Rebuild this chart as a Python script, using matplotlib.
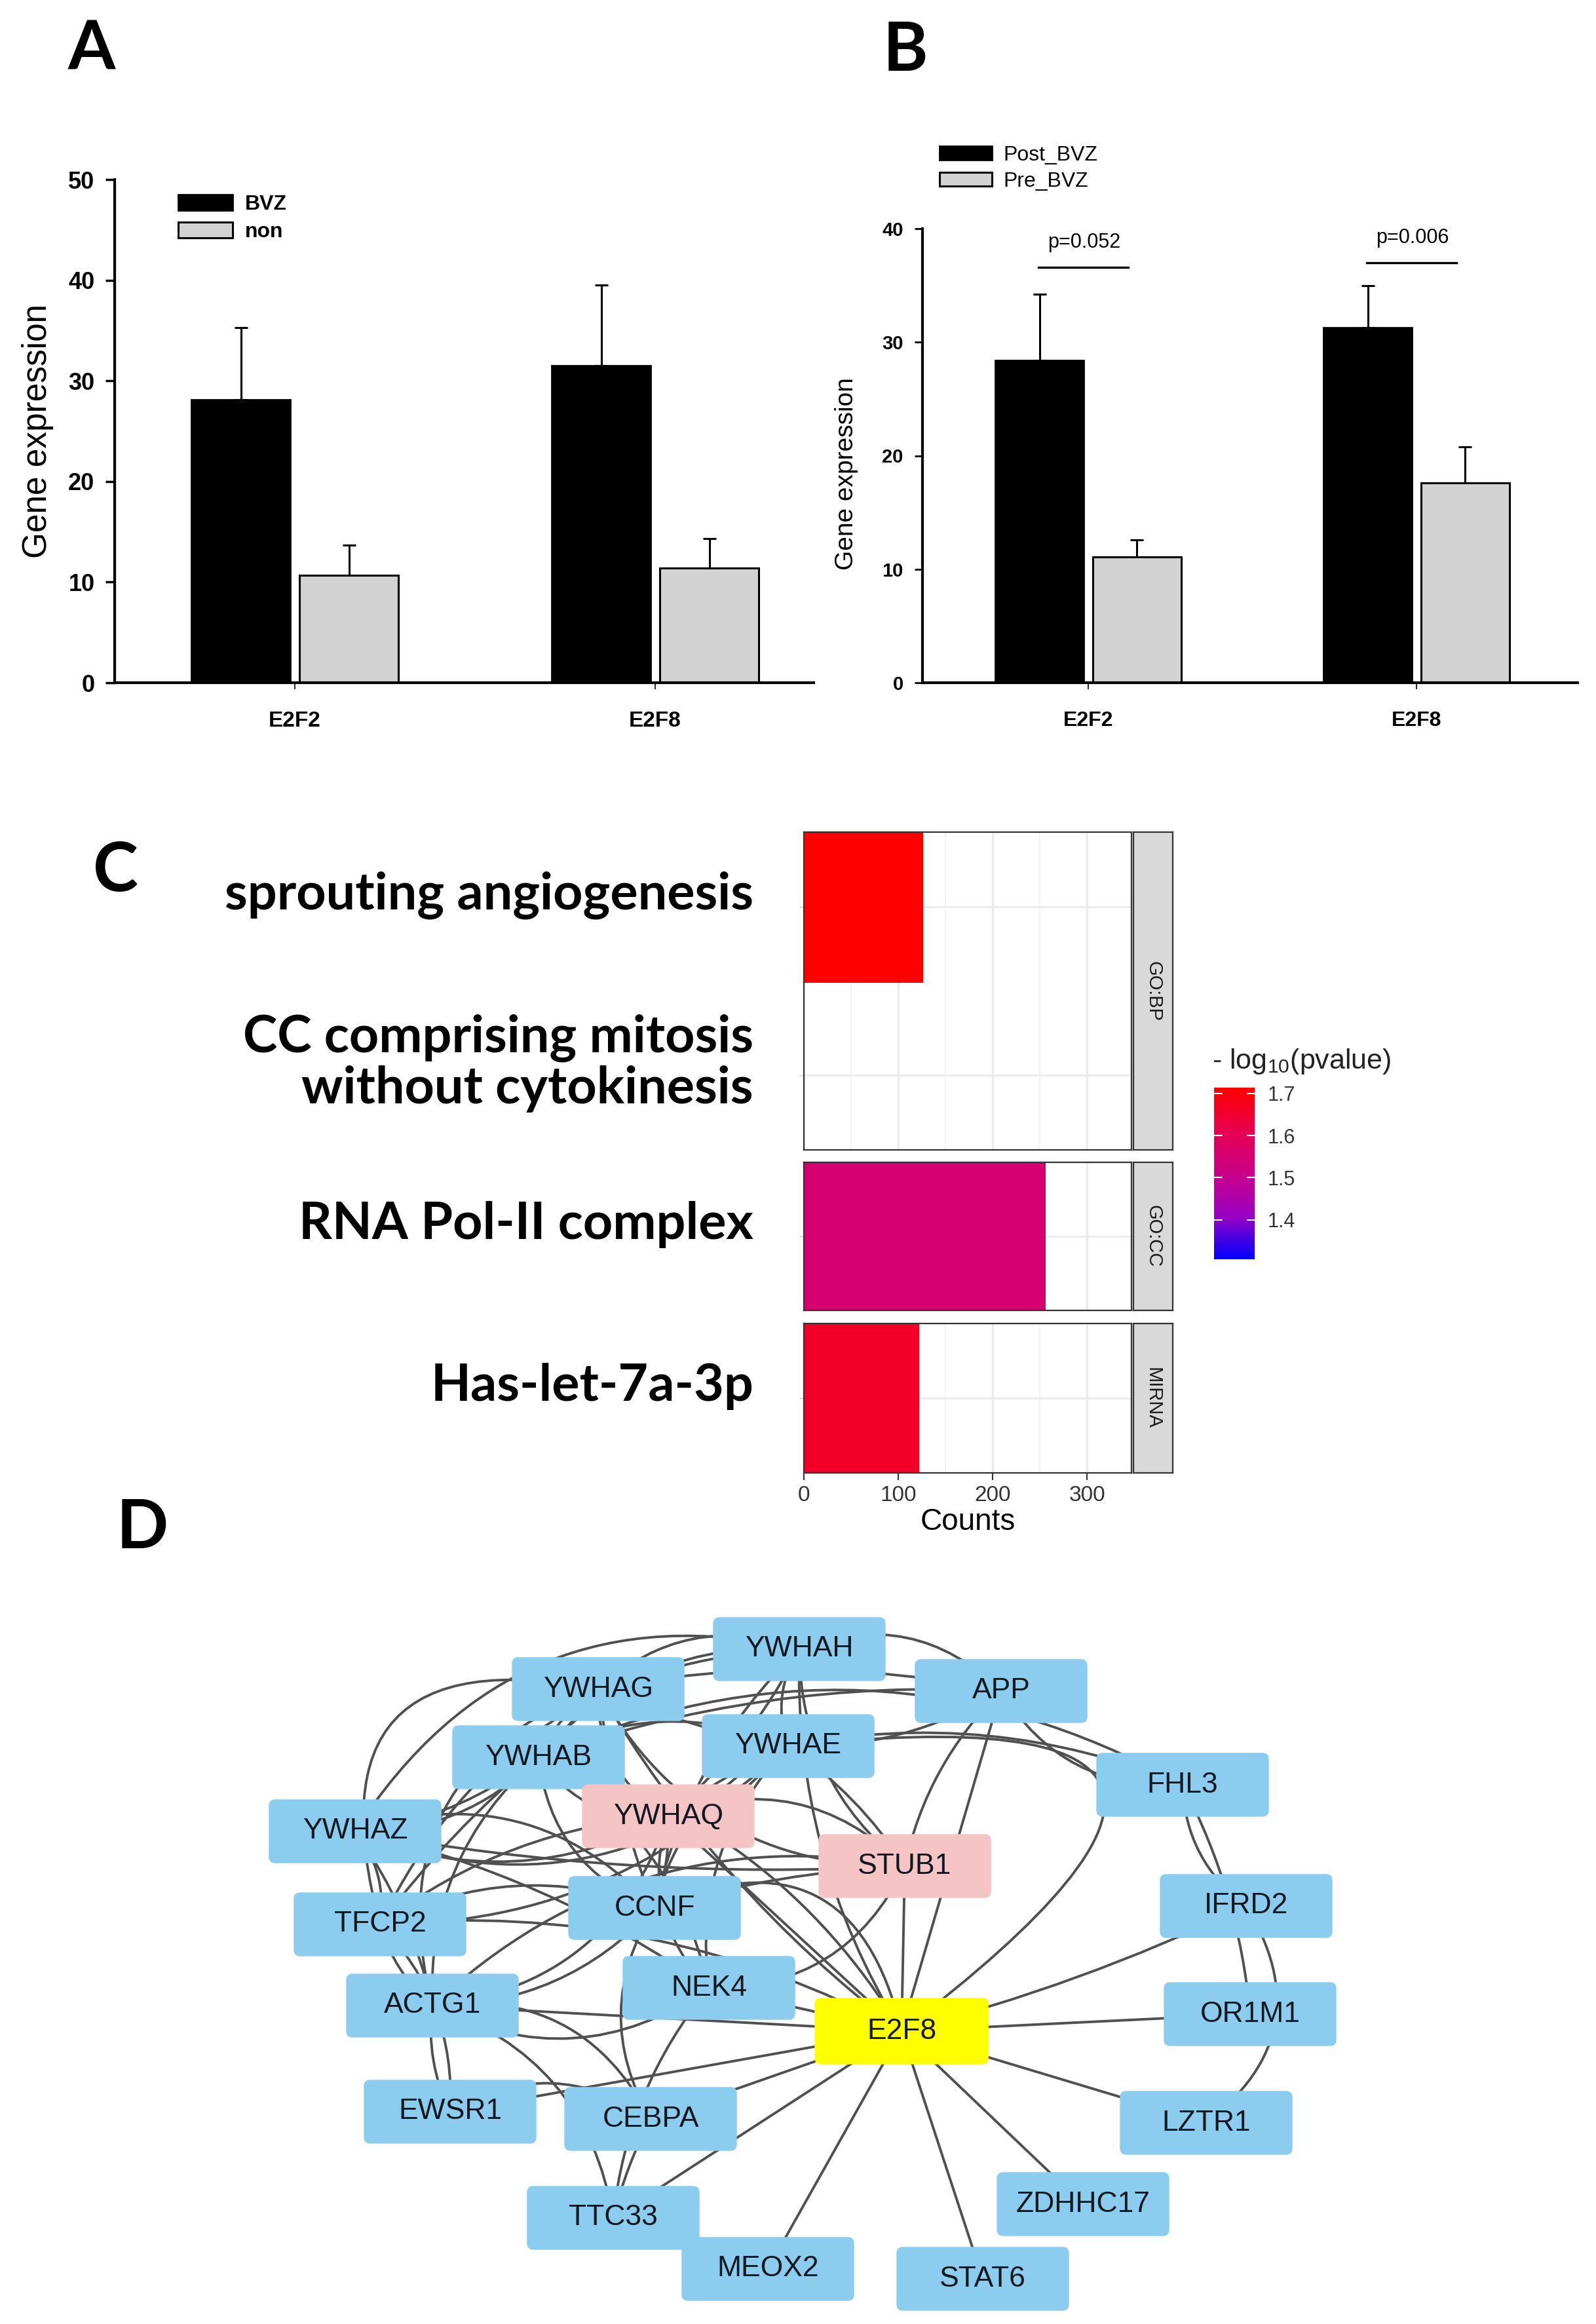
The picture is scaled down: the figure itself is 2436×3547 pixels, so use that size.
import matplotlib
matplotlib.use("Agg")
import matplotlib.pyplot as plt
import matplotlib.transforms as mtransforms
from matplotlib.patches import FancyBboxPatch, FancyArrowPatch
from matplotlib.colors import LinearSegmentedColormap, Normalize
from matplotlib.cm import ScalarMappable
import numpy as np

W, H = 2436, 3547

# ---------------- data ----------------
genes = ["E2F2", "E2F8"]

# panel A: BVZ vs non
bvz_mean = [28.1, 31.5]
bvz_err = [7.2, 8.0]
non_mean = [10.7, 11.4]
non_err = [3.0, 2.9]

# panel B: post vs pre BVZ
post_mean = [28.4, 31.3]
post_err = [5.8, 3.7]
pre_mean = [11.1, 17.6]
pre_err = [1.5, 3.2]
p_text = ["p=0.052", "p=0.006"]
p_line_y = [36.6, 37.0]

# panel C: enrichment
terms = ["sprouting angiogenesis",
         "CC comprising mitosis\nwithout cytokinesis",
         "RNA Pol-II complex",
         "Has-let-7a-3p"]
term_source = ["GO:BP", "GO:BP", "GO:CC", "MIRNA"]
term_counts = [126, 0, 256, 122]
term_logp = [1.714, 1.306, 1.55, 1.66]
sources = ["GO:BP", "GO:CC", "MIRNA"]

# panel D: interaction network
nodes = ["YWHAH", "YWHAG", "APP", "YWHAB", "YWHAE", "FHL3", "YWHAZ", "YWHAQ",
         "STUB1", "IFRD2", "TFCP2", "CCNF", "NEK4", "ACTG1", "OR1M1", "E2F8",
         "EWSR1", "CEBPA", "LZTR1", "ZDHHC17", "TTC33", "MEOX2", "STAT6"]
pink_nodes = ["YWHAQ", "STUB1"]
hub = "E2F8"
edges = [
    ("YWHAH", "YWHAG"), ("YWHAH", "YWHAB"), ("YWHAH", "YWHAZ"), ("YWHAH", "YWHAQ"),
    ("YWHAH", "YWHAE"), ("YWHAH", "APP"), ("YWHAG", "YWHAE"), ("YWHAG", "YWHAB"),
    ("YWHAG", "YWHAZ"), ("YWHAG", "YWHAQ"), ("YWHAG", "APP"), ("YWHAE", "YWHAB"),
    ("YWHAE", "YWHAZ"), ("YWHAE", "YWHAQ"), ("YWHAE", "APP"), ("YWHAB", "YWHAZ"),
    ("YWHAB", "YWHAQ"), ("YWHAB", "APP"), ("YWHAZ", "YWHAQ"),
    ("YWHAG", "TFCP2"), ("YWHAB", "TFCP2"), ("YWHAQ", "TFCP2"), ("YWHAE", "TFCP2"),
    ("YWHAH", "TFCP2"), ("YWHAZ", "ACTG1"), ("YWHAB", "ACTG1"), ("YWHAQ", "ACTG1"),
    ("YWHAG", "ACTG1"), ("TFCP2", "ACTG1"), ("YWHAZ", "TFCP2"),
    ("YWHAB", "CCNF"), ("YWHAQ", "CCNF"), ("YWHAE", "CCNF"), ("YWHAZ", "CCNF"),
    ("YWHAG", "CCNF"), ("YWHAH", "CCNF"), ("TFCP2", "CCNF"),
    ("YWHAG", "STUB1"), ("YWHAE", "STUB1"), ("YWHAH", "STUB1"), ("YWHAQ", "STUB1"),
    ("YWHAZ", "STUB1"), ("APP", "STUB1"), ("YWHAB", "NEK4"), ("YWHAQ", "NEK4"),
    ("YWHAZ", "NEK4"), ("YWHAE", "NEK4"), ("STUB1", "NEK4"), ("STUB1", "CCNF"),
    ("STUB1", "ACTG1"), ("YWHAE", "FHL3"), ("APP", "FHL3"), ("YWHAB", "FHL3"),
    ("FHL3", "IFRD2"), ("FHL3", "OR1M1"), ("IFRD2", "LZTR1"),
    ("ACTG1", "EWSR1"), ("TFCP2", "EWSR1"), ("ACTG1", "NEK4"), ("ACTG1", "TTC33"),
    ("ACTG1", "CEBPA"), ("EWSR1", "CEBPA"), ("CEBPA", "TTC33"), ("NEK4", "TTC33"),
    ("CCNF", "ACTG1"), ("CCNF", "CEBPA"),
    ("E2F8", "YWHAH"), ("E2F8", "YWHAE"), ("E2F8", "YWHAB"), ("E2F8", "YWHAQ"),
    ("E2F8", "YWHAG"), ("E2F8", "APP"), ("E2F8", "STUB1"), ("E2F8", "CCNF"),
    ("E2F8", "NEK4"), ("E2F8", "IFRD2"), ("E2F8", "OR1M1"), ("E2F8", "LZTR1"),
    ("E2F8", "ZDHHC17"), ("E2F8", "STAT6"), ("E2F8", "MEOX2"), ("E2F8", "TTC33"),
    ("E2F8", "CEBPA"), ("E2F8", "EWSR1"), ("E2F8", "ACTG1"), ("E2F8", "TFCP2"),
]

# ---------------- layout ----------------
# network node centres, in picture pixels
node_xy = {
    "YWHAH": (1220, 2517), "YWHAG": (913, 2578), "APP": (1528, 2581),
    "YWHAB": (822, 2682), "YWHAE": (1203, 2665), "FHL3": (1805, 2724),
    "YWHAZ": (542, 2795), "YWHAQ": (1020, 2772), "STUB1": (1381, 2848),
    "IFRD2": (1902, 2909), "TFCP2": (580, 2937), "CCNF": (999, 2912),
    "NEK4": (1082, 3034), "ACTG1": (660, 3061), "OR1M1": (1908, 3074),
    "E2F8": (1376, 3100), "EWSR1": (687, 3223), "CEBPA": (993, 3234),
    "LZTR1": (1841, 3240), "ZDHHC17": (1653, 3364), "TTC33": (936, 3385),
    "MEOX2": (1172, 3463), "STAT6": (1500, 3478),
}
bend = {
    ("YWHAG", "TFCP2"): 0.8, ("YWHAH", "YWHAZ"): 0.35, ("YWHAG", "ACTG1"): 0.45,
    ("E2F8", "YWHAE"): 1.8, ("IFRD2", "LZTR1"): -0.45, ("E2F8", "CCNF"): 0.6,
    ("ACTG1", "TTC33"): -0.3, ("YWHAE", "FHL3"): -0.15, ("YWHAB", "FHL3"): -0.25,
    ("FHL3", "OR1M1"): -0.1, ("E2F8", "IFRD2"): 0.05, ("YWHAH", "YWHAG"): 0.3,
    ("YWHAH", "YWHAB"): 0.25, ("E2F8", "YWHAH"): -0.15, ("E2F8", "YWHAB"): 0.2,
    ("E2F8", "YWHAG"): -0.1, ("E2F8", "TFCP2"): 0.15, ("ACTG1", "CEBPA"): -0.35,
    ("STUB1", "ACTG1"): 0.25, ("E2F8", "NEK4"): 0.0,
}
wave = [0.15, -0.22, 0.3, -0.1, 0.24, -0.32, 0.06]

fig = plt.figure(figsize=(W / 100, H / 100), dpi=100)
fig.patch.set_facecolor("white")


def px_axes(x0, y0, x1, y1):
    return fig.add_axes([x0 / W, 1 - y1 / H, (x1 - x0) / W, (y1 - y0) / H])


SANS = ["Liberation Sans", "DejaVu Sans"]
plt.rcParams["font.family"] = SANS
plt.rcParams["mathtext.fontset"] = "custom"
plt.rcParams["mathtext.rm"] = "Liberation Sans"
plt.rcParams["mathtext.it"] = "Liberation Sans"

# panel letters
for letter, cx, cy in [("A", 140, 76), ("B", 1382, 78), ("C", 176, 1330), ("D", 217, 2333)]:
    fig.text(cx / W, 1 - cy / H, letter, fontsize=75, fontweight="bold",
             family=["Lato", "DejaVu Sans"], ha="center", va="center")

x = np.arange(len(genes))


def style_bar_axes(ax, lw):
    for s in ["top", "right"]:
        ax.spines[s].set_visible(False)
    for s in ["left", "bottom"]:
        ax.spines[s].set_linewidth(lw)
    ax.set_xticks(x)
    ax.set_xticklabels(genes)


# ---------------- A ----------------
axA = px_axes(175, 274, 1242, 1042)
axA.bar(x - 0.15, bvz_mean, 0.275, color="black", edgecolor="black", lw=2, label="BVZ", zorder=2)
axA.bar(x + 0.15, non_mean, 0.275, color="#D3D3D3", edgecolor="black", lw=2.2, label="non", zorder=2)
axA.errorbar(x - 0.15, bvz_mean, yerr=[np.zeros(2), bvz_err], fmt="none", ecolor="black",
             elinewidth=2.2, capsize=7, capthick=2.2, zorder=1)
axA.errorbar(x + 0.15, non_mean, yerr=[np.zeros(2), non_err], fmt="none", ecolor="black",
             elinewidth=2.2, capsize=7, capthick=2.2, zorder=1)
axA.set_xlim(-0.5, 1.44)
axA.set_ylim(0, 50)
style_bar_axes(axA, 3)
axA.set_yticks(range(0, 51, 10))
axA.tick_params(axis="y", length=10, width=2.5, pad=12, labelsize=26)
axA.tick_params(axis="x", length=7, width=1.2, pad=24, labelsize=24)
for t in axA.get_xticklabels() + axA.get_yticklabels():
    t.set_fontweight("bold")
axA.set_ylabel("Gene expression", fontsize=37, labelpad=16)
axA.legend(loc="upper left", bbox_to_anchor=(272 / W, 1 - 297 / H), bbox_transform=fig.transFigure,
           frameon=False, borderpad=0, borderaxespad=0, handlelength=2.6, handleheight=0.75,
           handletextpad=0.6, labelspacing=0.38, prop=dict(size=23, weight="bold"))

# ---------------- B ----------------
axB = px_axes(1408, 349, 2408, 1042)
axB.bar(x - 0.148, post_mean, 0.27, color="black", edgecolor="black", lw=2, label="Post_BVZ", zorder=2)
axB.bar(x + 0.148, pre_mean, 0.27, color="#D3D3D3", edgecolor="black", lw=2.2, label="Pre_BVZ", zorder=2)
axB.errorbar(x - 0.148, post_mean, yerr=[np.zeros(2), post_err], fmt="none", ecolor="black",
             elinewidth=2.2, capsize=7, capthick=2.2, zorder=1)
axB.errorbar(x + 0.148, pre_mean, yerr=[np.zeros(2), pre_err], fmt="none", ecolor="black",
             elinewidth=2.2, capsize=7, capthick=2.2, zorder=1)
for i in range(len(genes)):
    axB.plot([i - 0.152, i + 0.122], [p_line_y[i]] * 2, color="black", lw=2.4, clip_on=False)
    axB.text(i - 0.012, p_line_y[i] + 2.2, p_text[i], ha="center", va="center", fontsize=22,
             clip_on=False)
axB.set_xlim(-0.505, 1.491)
axB.set_ylim(0, 40)
style_bar_axes(axB, 3)
axB.set_yticks(range(0, 41, 10))
axB.tick_params(axis="y", length=9, width=2, pad=12, labelsize=21)
axB.tick_params(axis="x", length=7, width=1.2, pad=24, labelsize=23)
for t in axB.get_xticklabels() + axB.get_yticklabels():
    t.set_fontweight("bold")
axB.set_ylabel("Gene expression", fontsize=28, labelpad=22)
axB.yaxis.set_label_coords(-0.098, 0.46)
axB.legend(loc="upper left", bbox_to_anchor=(1434 / W, 1 - 222 / H), bbox_transform=fig.transFigure,
           frameon=False, borderpad=0, borderaxespad=0, handlelength=2.5, handleheight=0.62,
           handletextpad=0.55, labelspacing=0.3, prop=dict(size=23))

# ---------------- C ----------------
cmap = LinearSegmentedColormap.from_list(
    "lab_blue_red", ["#0000FF", "#9A00C3", "#CA0088", "#E8004F", "#FF0000"])
norm = Normalize(vmin=1.306, vmax=1.714)
grey = "#333333"
facet_px = {"GO:BP": (1270, 1755), "GO:CC": (1774, 2000), "MIRNA": (2020, 2248)}
up = mtransforms.ScaledTranslation(0, 13 / 72, fig.dpi_scale_trans)
axC = []
for src in sources:
    y0, y1 = facet_px[src]
    ax = px_axes(1227, y0, 1727, y1)
    idx = [i for i, s in enumerate(term_source) if s == src]
    pos = np.arange(len(idx))
    ax.barh(pos, [term_counts[i] for i in idx], height=0.9,
            color=[cmap(norm(term_logp[i])) for i in idx], zorder=2)
    ax.set_xlim(0, 347)
    ax.set_ylim(len(idx) - 1 + 0.445, -0.445)
    ax.set_xticks([0, 100, 200, 300])
    ax.set_xticks([50, 150, 250], minor=True)
    ax.set_yticks(pos)
    ax.set_yticklabels([])
    ax.grid(True, which="major", color="#EBEBEB", lw=2.2, zorder=0)
    ax.grid(True, which="minor", axis="x", color="#F2F2F2", lw=1.2, zorder=0)
    ax.set_axisbelow(True)
    ax.tick_params(axis="y", length=5, width=1, color="#CCCCCC")
    ax.tick_params(axis="x", which="minor", length=0)
    for s in ax.spines.values():
        s.set_linewidth(1.6)
        s.set_color(grey)
    for k, i in enumerate(idx):
        ax.text(-0.154, k, terms[i], transform=ax.get_yaxis_transform() + up,
                ha="right", va="center", multialignment="right", fontsize=57,
                fontweight="bold", family=["Lato", "DejaVu Sans"], linespacing=1.08)
    strip = px_axes(1730, y0, 1790, y1)
    strip.set_facecolor("#D9D9D9")
    strip.set_xticks([])
    strip.set_yticks([])
    for s in strip.spines.values():
        s.set_linewidth(1.6)
        s.set_color(grey)
    strip.text(0.5, 0.5, src, rotation=-90, ha="center", va="center", fontsize=21,
               color="#1A1A1A", transform=strip.transAxes)
    axC.append(ax)

for ax in axC[:-1]:
    ax.tick_params(axis="x", which="major", length=0, labelbottom=False)
axC[-1].tick_params(axis="x", which="major", length=8, width=1.5, color=grey,
                    labelsize=24, labelcolor=grey, pad=6)
axC[-1].set_xlabel("Counts", fontsize=33, labelpad=2)

cax = px_axes(1853, 1660, 1915, 1922)
cb = fig.colorbar(ScalarMappable(norm=norm, cmap=cmap), cax=cax, ticks=[1.4, 1.5, 1.6, 1.7])
cb.outline.set_visible(False)
cax.tick_params(axis="y", direction="in", length=9, width=1.5, colors="white", left=True,
                right=True, labelright=True, labelleft=False, labelsize=22, pad=14)
for t in cax.get_yticklabels():
    t.set_color(grey)
fig.text(1850 / W, 1 - 1620 / H, "- log$_{10}$(pvalue)", fontsize=31, ha="left", va="center",
         color="#222222")

# ---------------- D ----------------
axD = px_axes(0, 2400, W, H)
axD.set_xlim(0, W)
axD.set_ylim(H, 2400)
axD.axis("off")

for k, (a, b) in enumerate(edges):
    rad = bend.get((a, b), 0.0 if hub in (a, b) else wave[k % len(wave)])
    arc = FancyArrowPatch(node_xy[a], node_xy[b], arrowstyle="-", shrinkA=0, shrinkB=0,
                          connectionstyle=f"arc3,rad={rad}", color="#505050", lw=2.8, zorder=1)
    axD.add_patch(arc)

for name in nodes:
    cx, cy = node_xy[name]
    if name == hub:
        fc, w, h = "#FFFF00", 264, 100
    elif name in pink_nodes:
        fc, w, h = "#F5C5C6", 262, 96
    else:
        fc, w, h = "#8CCDEF", 262, 96
    pad = 9
    box = FancyBboxPatch((cx - w / 2 + pad, cy - h / 2 + pad), w - 2 * pad, h - 2 * pad,
                         boxstyle=f"round,pad={pad}", fc=fc, ec=fc, lw=1, zorder=2)
    axD.add_patch(box)
    axD.text(cx, cy, name, ha="center", va="center", fontsize=32, color="#111820", zorder=3)

fig.savefig("out.png", dpi=100, facecolor="white")
